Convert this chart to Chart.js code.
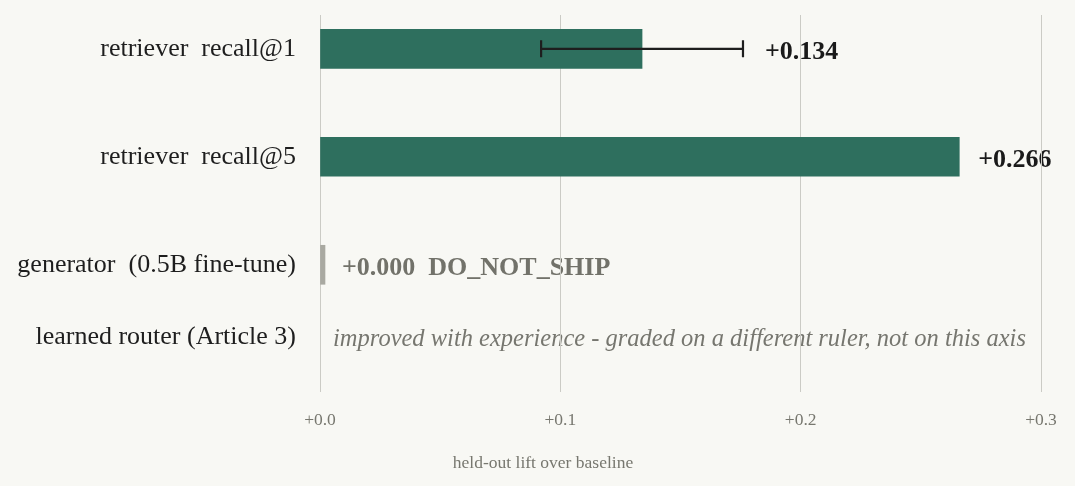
<!DOCTYPE html>
<html>
<head>
<meta charset="utf-8">
<script src="https://cdn.jsdelivr.net/npm/chart.js@4.4.1/dist/chart.umd.min.js"></script>
<style>
  html, body { margin: 0; padding: 0; background: #f8f8f4; }
  #wrap { width: 1075px; height: 486px; }
</style>
</head>
<body>
<div id="wrap"><canvas id="c" width="1075" height="486"></canvas></div>
<script>
// ---- data ----
const categories = ['retriever  recall@1', 'retriever  recall@5', 'generator  (0.5B fine-tune)', 'learned router (Article 3)'];
const rowPositions = [0, 1, 2, 2.67];
const lifts = [0.134, 0.266, 0.000, null];
const errors = [0.042, null, null, null];
const statusTags = [null, null, 'DO_NOT_SHIP', null];
const notes = [null, null, null, 'improved with experience - graded on a different ruler, not on this axis'];
const xTicks = [0, 0.1, 0.2, 0.3];
const xTickLabels = ['+0.0', '+0.1', '+0.2', '+0.3'];
const axisTitle = 'held-out lift over baseline';

// ---- styles ----
const GREEN = '#2e6f5e';
const GREY_BAR = '#a9a9a1';
const BG = '#f8f8f4';
const barColors = [GREEN, GREEN, GREY_BAR, GREY_BAR];
const labelColors = ['#1a1a1a', '#1a1a1a', '#72726a', '#72726a'];
const SERIF = '"Liberation Serif", "Times New Roman", serif';

const points = [];
lifts.forEach((v, i) => { if (v !== null) points.push({ x: v, y: rowPositions[i], idx: i }); });

const bgAndText = {
  id: 'bgAndText',
  beforeDraw(chart) {
    const ctx = chart.ctx;
    ctx.save();
    ctx.fillStyle = BG;
    ctx.fillRect(0, 0, chart.width, chart.height);
    const xs = chart.scales.x, ys = chart.scales.y;
    ctx.textBaseline = 'middle';
    ctx.textAlign = 'left';
    lifts.forEach((v, i) => {
      const y = ys.getPixelForValue(rowPositions[i]);
      if (v !== null) {
        const end = v + (errors[i] || 0);
        let txt = (v >= 0 ? '+' : '') + v.toFixed(3);
        if (statusTags[i]) txt += '  ' + statusTags[i];
        ctx.font = 'bold 26px ' + SERIF;
        ctx.fillStyle = labelColors[i];
        ctx.fillText(txt, xs.getPixelForValue(end) + (i === 1 ? 19 : 22), y + 3);
      }
      if (notes[i]) {
        ctx.font = 'italic 24.5px ' + SERIF;
        ctx.fillStyle = '#76766f';
        ctx.fillText(notes[i], xs.getPixelForValue(0) + 13, y + 2);
      }
    });
    ctx.font = '17.5px ' + SERIF;
    ctx.fillStyle = '#77776f';
    ctx.textAlign = 'center';
    ctx.fillText(axisTitle, 543, 463);
    ctx.restore();
  }
};

const errorBars = {
  id: 'errorBars',
  afterDatasetsDraw(chart) {
    const ctx = chart.ctx;
    const xs = chart.scales.x, ys = chart.scales.y;
    ctx.save();
    ctx.strokeStyle = '#1e1e1e';
    ctx.lineWidth = 2.2;
    lifts.forEach((v, i) => {
      if (v === null || !errors[i]) return;
      const y = ys.getPixelForValue(rowPositions[i]);
      const x0 = xs.getPixelForValue(v - errors[i]);
      const x1 = xs.getPixelForValue(v + errors[i]);
      ctx.beginPath();
      ctx.moveTo(x0, y); ctx.lineTo(x1, y);
      ctx.moveTo(x0, y - 8.5); ctx.lineTo(x0, y + 8.5);
      ctx.moveTo(x1, y - 8.5); ctx.lineTo(x1, y + 8.5);
      ctx.stroke();
    });
    ctx.restore();
  }
};

new Chart(document.getElementById('c'), {
  type: 'bar',
  data: {
    datasets: [{
      data: points,
      backgroundColor: points.map(p => barColors[p.idx]),
      borderWidth: 0,
      barThickness: 39,
      minBarLength: 5
    }]
  },
  options: {
    indexAxis: 'y',
    responsive: false,
    animation: false,
    events: [],
    layout: { padding: { top: 15, right: 34, left: 0, bottom: 0 } },
    plugins: { legend: { display: false }, tooltip: { enabled: false } },
    scales: {
      x: {
        type: 'linear',
        min: 0, max: 0.3,
        afterBuildTicks(s) { s.ticks = xTicks.map(v => ({ value: v })); },
        afterFit(s) { s.height = 94; s.paddingLeft = 0; s.paddingRight = 0; },
        grid: { color: '#cbcbc5', lineWidth: 1, drawTicks: false },
        border: { display: false },
        ticks: {
          padding: 18,
          color: '#77776f',
          font: { family: SERIF, size: 17.5 },
          callback(v) { const k = xTicks.indexOf(v); return k >= 0 ? xTickLabels[k] : ''; }
        }
      },
      y: {
        type: 'linear',
        offset: false,
        reverse: true,
        min: -0.313, max: 3.178,
        afterBuildTicks(s) { s.ticks = rowPositions.map(v => ({ value: v })); },
        afterFit(s) { s.width = 320; s.paddingTop = 0; s.paddingBottom = 0; },
        grid: { display: false, drawTicks: false, offset: false },
        border: { display: false },
        ticks: {
          padding: 24,
          color: '#1e1e1e',
          font: { family: SERIF, size: 26 },
          callback(v) { const k = rowPositions.indexOf(v); return k >= 0 ? categories[k] : ''; }
        }
      }
    }
  },
  plugins: [bgAndText, errorBars]
});
</script>
</body>
</html>
